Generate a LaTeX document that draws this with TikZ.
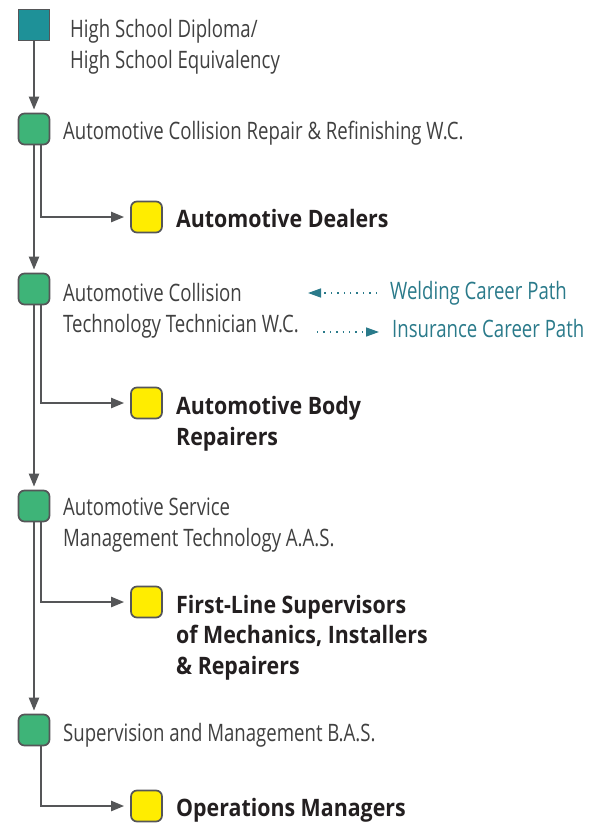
\documentclass[tikz,border=0pt]{standalone}
\usepackage{fontspec}
\setmainfont{Open Sans}[FakeStretch=0.775]
\newfontfamily\boldfont{Open Sans}[FakeStretch=0.89]
\usetikzlibrary{arrows.meta}
\definecolor{linegray}{RGB}{85,86,88}
\definecolor{txtgray}{RGB}{64,64,64}
\definecolor{txtdark}{RGB}{35,31,32}
\definecolor{tealbox}{RGB}{30,145,152}
\definecolor{greenbox}{RGB}{62,180,120}
\definecolor{yellowbox}{RGB}{255,237,0}
\definecolor{pathteal}{RGB}{42,122,138}
\begin{document}
\begin{tikzpicture}[x=1pt,y=-1pt,
  box/.style={draw=linegray,line width=1.7pt,minimum size=31pt,inner sep=0pt,rounded corners=6pt},
  degbox/.style={box,fill=greenbox},
  jobbox/.style={box,fill=yellowbox},
  startbox/.style={draw=linegray,line width=1.7pt,minimum size=31pt,inner sep=0pt,fill=tealbox},
  regtext/.style={anchor=base west,inner sep=0pt,align=left,text=txtgray,font=\fontsize{24}{30.5}\selectfont},
  jobtext/.style={anchor=base west,inner sep=0pt,align=left,text=txtdark,font=\boldfont\bfseries\fontsize{24}{30.5}\selectfont},
  pathtext/.style={anchor=base west,inner sep=0pt,text=pathteal,font=\fontsize{24}{30}\selectfont},
  flow/.style={draw=linegray,line width=2.2pt,-{Triangle[length=13pt,width=10pt]}},
  dotarrow/.style={draw=pathteal,line width=1.4pt,dash pattern=on 1.4pt off 5pt,-{Triangle[length=13pt,width=9pt]}}
]
\useasboundingbox (0,0) rectangle (598,825);

% boxes
\node[startbox] (hs) at (34,25) {};
\node[degbox] (g1) at (34,129) {};
\node[degbox] (g2) at (34,289) {};
\node[degbox] (g3) at (34,506) {};
\node[degbox] (g4) at (34,730) {};
\node[jobbox] (y1) at (146.5,217) {};
\node[jobbox] (y2) at (146.5,403) {};
\node[jobbox] (y3) at (146.5,602) {};
\node[jobbox] (y4) at (146.5,806) {};

% texts (base anchor = baseline of last line)
\node[regtext] (hst) at (70,68) {High School Diploma/\\High School Equivalency};
\node[regtext] (g1t) at (63,139) {Automotive Collision Repair \& Refinishing W.C.};
\node[regtext] (g2t) at (63,332) {Automotive Collision\\Technology Technician W.C.};
\node[regtext] (g3t) at (63,546) {Automotive Service\\Management Technology A.A.S.};
\node[regtext] (g4t) at (63,741) {Supervision and Management B.A.S.};
\node[jobtext] (y1t) at (176,227) {Automotive Dealers};
\node[jobtext] (y2t) at (176,445) {Automotive Body\\Repairers};
\node[jobtext] (y3t) at (176,674) {First-Line Supervisors\\of Mechanics, Installers\\\& Repairers};
\node[jobtext] (y4t) at (176,816) {Operations Managers};
\node[pathtext] (weld) at (390,299) {Welding Career Path};
\node[pathtext] (ins) at (392,337) {Insurance Career Path};

% main flow
\draw[flow,shorten >=3pt] (hs.south) -- (g1.north);
\draw[flow,shorten >=3pt] (g1.south) -- (g2.north);
\draw[flow,shorten >=3pt] (g2.south) -- (g3.north);
\draw[flow,shorten >=3pt] (g3.south) -- (g4.north);

% branches
\draw[flow,shorten >=6pt] ([xshift=7pt]g1.south) |- (y1.west);
\draw[flow,shorten >=6pt] ([xshift=7pt]g2.south) |- (y2.west);
\draw[flow,shorten >=6pt] ([xshift=7pt]g3.south) |- (y3.west);
\draw[flow,shorten >=6pt] ([xshift=7pt]g4.south) |- (y4.west);

% career paths
\coordinate (wtip) at (308,293);
\coordinate (istart) at (317,332);
\draw[dotarrow,shorten <=13pt] ([yshift=6pt]weld.base west) -- (wtip);
\draw[dotarrow,shorten >=13pt] (istart) -- ([yshift=5pt]ins.base west);
\end{tikzpicture}
\end{document}
